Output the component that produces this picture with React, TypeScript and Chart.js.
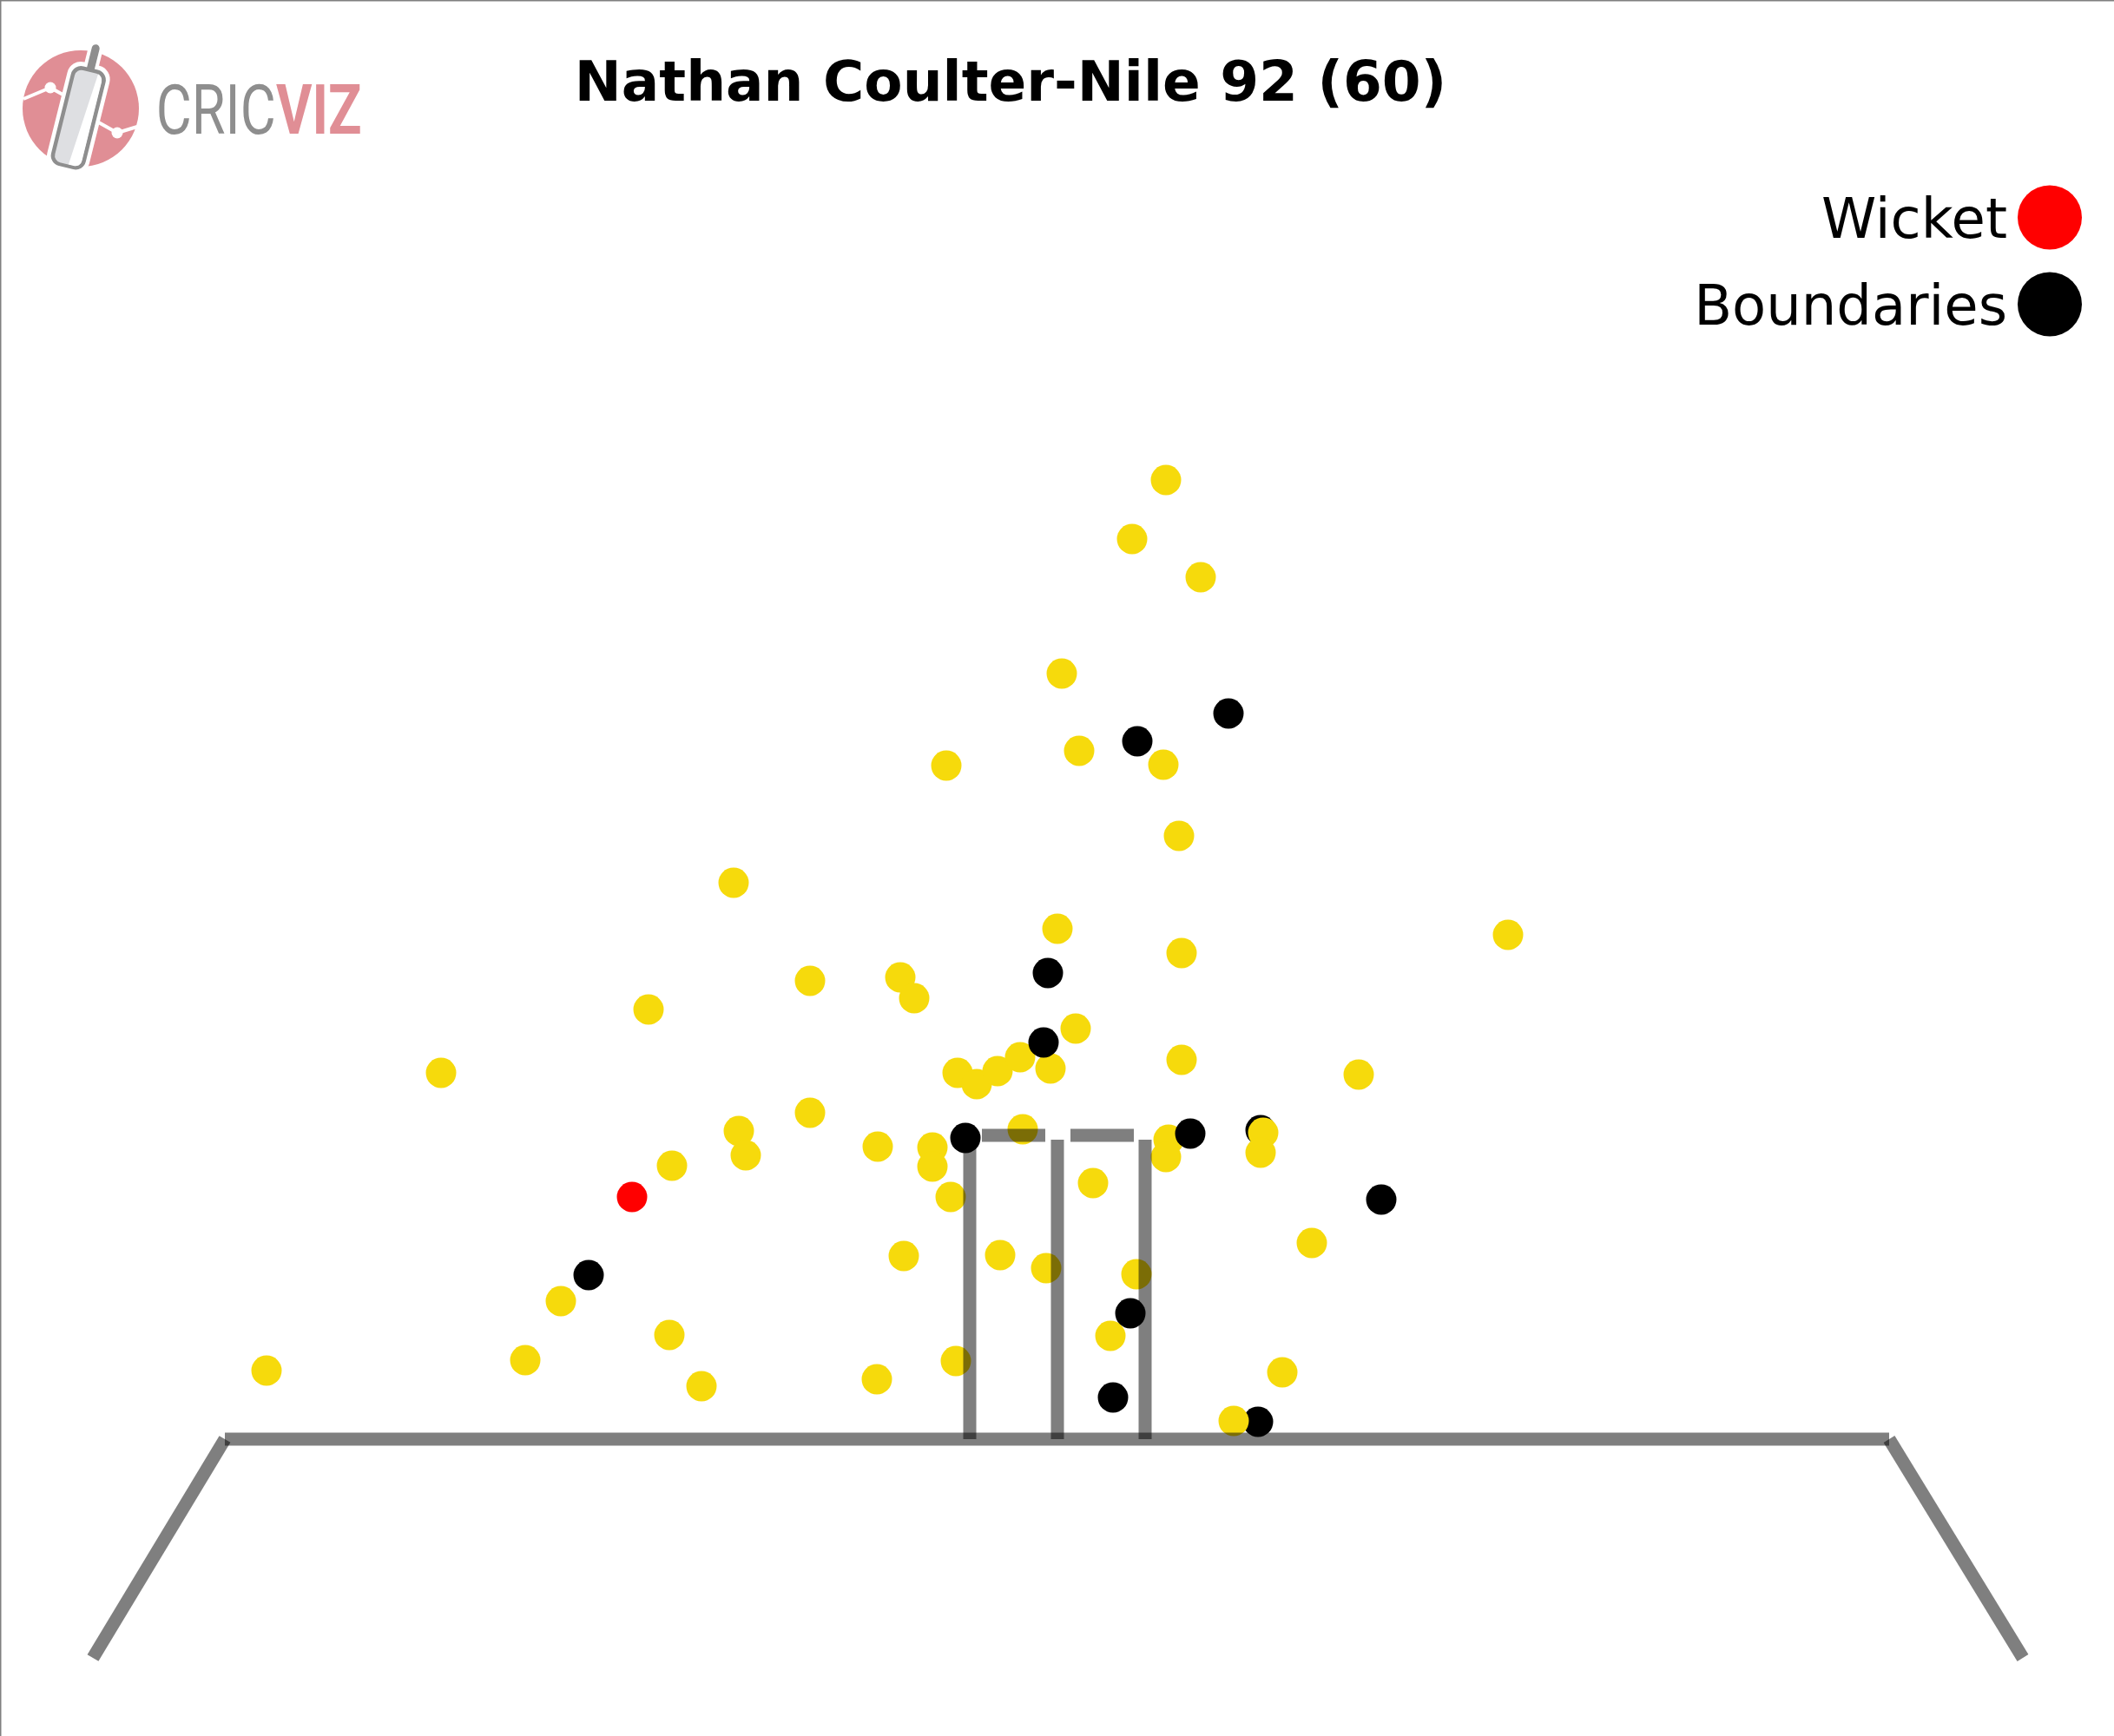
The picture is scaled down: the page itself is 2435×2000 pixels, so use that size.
import React, { useEffect, useRef } from "react";
import { Chart, registerables } from "chart.js";

Chart.register(...registerables);

const W = 2435;
const H = 2000;

// Ball positions: x = lateral offset from middle stump, y = height above the popping crease (chart units)
// Drawn in this order (later balls sit on top of earlier ones).
const ballX = [
  234, 231,
  125, 86, 165, 5, 25, 122, -128, 140, -373, 0, 519, 143, -285, -181, -165, -471, 21, -710,
  143, 347, -115, -93, -69, -43, -8, -285, -367, -359, -444, -207, -144, -144, -40, 128,
  125, 237, 234, 41, -123, 293, -177, -66, -13, 91, -572, -447, 61, -613, -911, -410,
  -208, -117, 259, 203,
  -490,
  92, 197, -11, -16, -106, 153, 373, -540, 84, 64,
];
const ballY = [
  356, 20,
  1105, 1037, 993, 882, 793, 777, 776, 695, 641, 588, 581, 560, 528, 532, 508, 495, 473, 422,
  437, 420, 422, 409, 424, 440, 427, 376, 355, 327, 315, 337, 336, 314, 357, 345,
  325, 353, 330, 295, 279, 226, 211, 212, 197, 190, 159, 120, 119, 91, 79, 61,
  69, 90, 77, 21,
  279,
  804, 836, 537, 457, 347, 352, 276, 189, 145, 48,
];
const ballResult = [
  "boundary", "boundary",
  ...Array(54).fill("dot"),
  "wicket",
  ...Array(10).fill("boundary"),
];

const resultColors: Record<string, string> = {
  dot: "#F6DA0C",
  boundary: "#000000",
  wicket: "#FF0000",
};

// Pitch furniture (chart units)
const stumpX = [-101, 0, 101];
const stumpTop = 345;
const bailY = 350;
const bailStartX = [-87, 15];
const bailEndX = [-14, 88];
const creaseX = [-959, 958];
const returnEndX = [-1111, 1112];
const returnEndY = -252;

const xRange = [-1218, 1217];
const yRange = [-342, 1658];

const titleText = "Nathan Coulter-Nile 92 (60)";
const legendLabels = ["Wicket", "Boundaries"];
const legendColors = ["#FF0000", "#000000"];

const PINK = "#E08E95";
const LOGO_GRAY = "#8E8E8E";

function rr(ctx: CanvasRenderingContext2D, x: number, y: number, w: number, h: number, r: number) {
  const rad = Math.min(r, w / 2, h / 2);
  ctx.beginPath();
  ctx.moveTo(x + rad, y);
  ctx.lineTo(x + w - rad, y);
  ctx.arcTo(x + w, y, x + w, y + rad, rad);
  ctx.lineTo(x + w, y + h - rad);
  ctx.arcTo(x + w, y + h, x + w - rad, y + h, rad);
  ctx.lineTo(x + rad, y + h);
  ctx.arcTo(x, y + h, x, y + h - rad, rad);
  ctx.lineTo(x, y + rad);
  ctx.arcTo(x, y, x + rad, y, rad);
  ctx.closePath();
}

function fitText(
  ctx: CanvasRenderingContext2D,
  text: string,
  font: string,
  color: string,
  left: number,
  right: number,
  baseline: number
) {
  ctx.save();
  ctx.font = font;
  ctx.textAlign = "left";
  ctx.textBaseline = "alphabetic";
  const m = ctx.measureText(text);
  const inkW = m.actualBoundingBoxLeft + m.actualBoundingBoxRight;
  const sx = (right - left) / inkW;
  ctx.translate(left, baseline);
  ctx.scale(sx, 1);
  ctx.fillStyle = color;
  ctx.fillText(text, m.actualBoundingBoxLeft, 0);
  ctx.restore();
}

function drawLogo(ctx: CanvasRenderingContext2D) {
  ctx.save();
  ctx.fillStyle = PINK;
  ctx.beginPath();
  ctx.arc(93, 125, 67, 0, Math.PI * 2);
  ctx.fill();

  ctx.strokeStyle = "#FFFFFF";
  ctx.lineWidth = 4;
  ctx.lineJoin = "round";
  ctx.beginPath();
  ctx.moveTo(27, 114);
  ctx.lineTo(58, 101);
  ctx.lineTo(76, 111);
  ctx.stroke();
  ctx.beginPath();
  ctx.moveTo(110, 139);
  ctx.lineTo(135, 153);
  ctx.lineTo(158, 146);
  ctx.stroke();
  ctx.fillStyle = "#FFFFFF";
  ctx.beginPath();
  ctx.arc(58, 101, 6.5, 0, Math.PI * 2);
  ctx.fill();
  ctx.beginPath();
  ctx.arc(135, 153, 6.5, 0, Math.PI * 2);
  ctx.fill();

  // bat
  ctx.translate(76, 193);
  ctx.rotate((14 * Math.PI) / 180);
  ctx.fillStyle = "#FFFFFF";
  rr(ctx, -25, -123, 50, 128, 16);
  ctx.fill();
  rr(ctx, -8.5, -150, 17, 40, 7);
  ctx.fill();
  ctx.fillStyle = LOGO_GRAY;
  rr(ctx, -4.5, -146, 9, 40, 4.5);
  ctx.fill();
  rr(ctx, -20.5, -118, 41, 118, 12);
  ctx.fill();
  ctx.fillStyle = "#DEDFE2";
  rr(ctx, -16, -113.5, 32, 109.5, 8);
  ctx.fill();
  ctx.save();
  rr(ctx, -16, -113.5, 32, 109.5, 8);
  ctx.clip();
  ctx.fillStyle = "#FFFFFF";
  ctx.beginPath();
  ctx.moveTo(2, -4);
  ctx.lineTo(16, -4);
  ctx.lineTo(16, -114);
  ctx.lineTo(10, -114);
  ctx.closePath();
  ctx.fill();
  ctx.restore();
  ctx.restore();

  fitText(ctx, "CRIC", "400 79px Roboto", LOGO_GRAY, 183, 315, 154);
  fitText(ctx, "VIZ", "700 79px Roboto", PINK, 318, 415, 154);
}

const decorPlugin = {
  id: "decor",
  beforeDraw(chart: any) {
    const ctx: CanvasRenderingContext2D = chart.ctx;
    ctx.save();
    ctx.fillStyle = "#FFFFFF";
    ctx.fillRect(0, 0, W, H);
    ctx.restore();
  },
  afterDraw(chart: any) {
    const ctx: CanvasRenderingContext2D = chart.ctx;
    ctx.save();
    // frame
    ctx.fillStyle = "#808080";
    ctx.fillRect(0, 0, W, 1.5);
    ctx.fillRect(0, 0, 1.5, H);

    // title
    ctx.fillStyle = "#000000";
    ctx.font = "bold 64.5px 'DejaVu Sans'";
    ctx.textAlign = "center";
    ctx.textBaseline = "alphabetic";
    ctx.fillText(titleText, 1164, 116);

    // legend
    ctx.font = "64px 'DejaVu Sans'";
    ctx.textAlign = "right";
    legendLabels.forEach((label, i) => {
      const cy = 250.5 + i * 100;
      ctx.fillStyle = "#000000";
      ctx.fillText(label, 2312, cy + 23);
      ctx.fillStyle = legendColors[i];
      ctx.beginPath();
      ctx.arc(2361, cy, 37, 0, Math.PI * 2);
      ctx.fill();
    });
    ctx.restore();

    drawLogo(ctx);
  },
};

function segment(x1: number, y1: number, x2: number, y2: number) {
  return {
    type: "scatter" as const,
    data: [
      { x: x1, y: y1 },
      { x: x2, y: y2 },
    ],
    showLine: true,
    borderColor: "rgba(0,0,0,0.5)",
    borderWidth: 15,
    borderCapStyle: "butt" as const,
    pointRadius: 0,
    pointHoverRadius: 0,
    clip: false as any,
    order: 0,
  };
}

export default function App() {
  const ref = useRef<HTMLCanvasElement>(null);

  useEffect(() => {
    const lines: any[] = [];
    stumpX.forEach((sx) => lines.push(segment(sx, 0, sx, stumpTop)));
    bailStartX.forEach((bx, i) => lines.push(segment(bx, bailY, bailEndX[i], bailY)));
    lines.push(segment(creaseX[0], 0, creaseX[1], 0));
    creaseX.forEach((cx, i) => lines.push(segment(cx, 0, returnEndX[i], returnEndY)));

    const balls = {
      type: "scatter" as const,
      data: ballX.map((x, i) => ({ x, y: ballY[i] })),
      showLine: false,
      pointRadius: 17.5,
      pointHoverRadius: 17.5,
      pointBorderWidth: 0,
      pointBorderColor: "rgba(0,0,0,0)",
      pointBackgroundColor: ballResult.map((r) => resultColors[r]),
      backgroundColor: ballResult.map((r) => resultColors[r]),
      borderWidth: 0,
      clip: false as any,
      order: 5,
    };

    const chart = new Chart(ref.current as HTMLCanvasElement, {
      type: "scatter",
      data: { datasets: [...lines, balls] },
      options: {
        animation: false,
        responsive: false,
        maintainAspectRatio: false,
        devicePixelRatio: 1,
        events: [],
        layout: { padding: 0, autoPadding: false },
        plugins: {
          legend: { display: false },
          tooltip: { enabled: false },
          title: { display: false },
        },
        scales: {
          x: { type: "linear", min: xRange[0], max: xRange[1], display: false },
          y: { type: "linear", min: yRange[0], max: yRange[1], display: false },
        },
      },
      plugins: [decorPlugin],
    });
    return () => chart.destroy();
  }, []);

  return (
    <div style={{ position: "absolute", left: 0, top: 0, width: W, height: H }}>
      <canvas ref={ref} width={W} height={H} style={{ display: "block", width: W, height: H }} />
    </div>
  );
}
